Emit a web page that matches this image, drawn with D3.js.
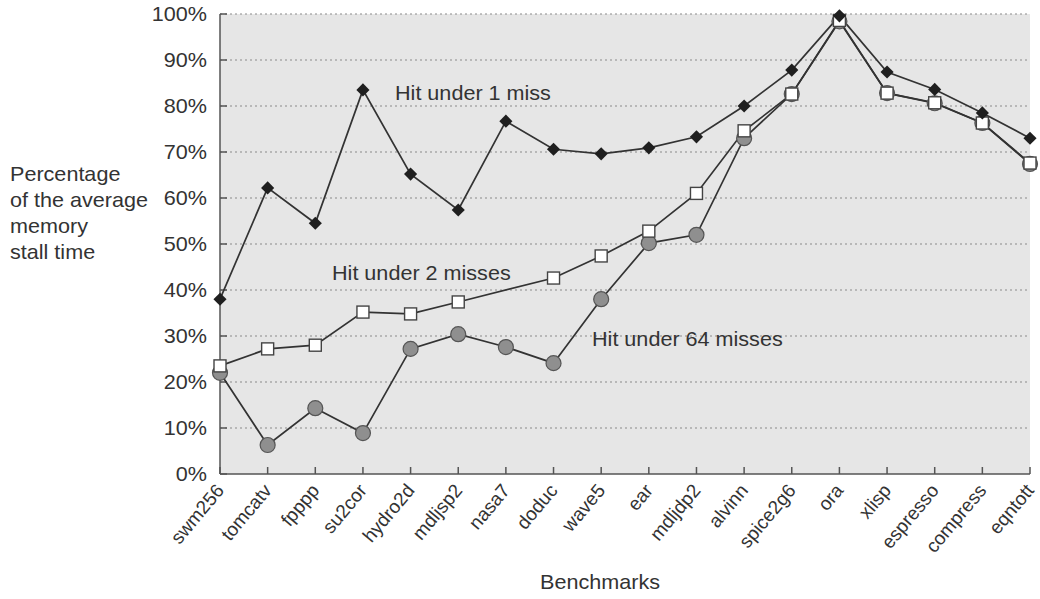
<!DOCTYPE html>
<html>
<head>
<meta charset="utf-8">
<script src="https://cdn.jsdelivr.net/npm/d3@7"></script>
<style>
  body { margin: 0; background: #fff; }
  text { font-family: "Liberation Sans", Arial, sans-serif; fill: #333; }
</style>
</head>
<body>
<div id="chart"></div>
<script>
const benchmarks = ['swm256', 'tomcatv', 'fpppp', 'su2cor', 'hydro2d', 'mdljsp2', 'nasa7', 'doduc',
    'wave5', 'ear', 'mdljdp2', 'alvinn', 'spice2g6', 'ora', 'xlisp', 'espresso', 'compress', 'eqntott'];
const hitUnder1 = [38.0, 62.2, 54.5, 83.5, 65.2, 57.4, 76.7, 70.6, 69.6, 70.9, 73.3, 80.0, 87.8, 99.6, 87.4, 83.6, 78.5, 73.0];
// nasa7 has no marker on the 2-miss line in the figure
const hitUnder2 = [23.5, 27.2, 28.0, 35.2, 34.8, 37.4, null, 42.6, 47.4, 52.8, 61.0, 74.6, 82.6, 98.6, 82.8, 80.7, 76.3, 67.6];
const hitUnder64 = [22.0, 6.3, 14.3, 8.9, 27.2, 30.4, 27.6, 24.1, 38.0, 50.2, 52.0, 73.0, 82.6, 98.4, 82.8, 80.6, 76.3, 67.4];
const yTicks = [0, 10, 20, 30, 40, 50, 60, 70, 80, 90, 100];
const yLabelLines = ['Percentage', 'of the average', 'memory', 'stall time'];

const width = 1040, height = 599;
const margin = { top: 14, right: 10, bottom: 125, left: 220 };
const sx = 1.08; // the figure's text is a bit stretched sideways

const svg = d3.select('#chart').append('svg')
    .attr('width', width)
    .attr('height', height);

const x = d3.scalePoint().domain(benchmarks).range([margin.left, width - margin.right]);
const y = d3.scaleLinear().domain([0, 100]).range([height - margin.bottom, margin.top]);

function stretchedText(g, tx, ty, str, anchor) {
    return g.append('text')
        .attr('transform', 'translate(' + tx + ',' + ty + ') scale(' + sx + ',1)')
        .attr('text-anchor', anchor || 'start')
        .attr('font-size', '20px')
        .text(str);
}

// plot background
svg.append('rect')
    .attr('x', margin.left)
    .attr('y', y(100))
    .attr('width', x.range()[1] - margin.left)
    .attr('height', y(0) - y(100))
    .attr('fill', '#e6e6e6');

// dotted gridlines
svg.append('g').selectAll('line')
    .data(yTicks.filter(t => t > 0))
    .join('line')
    .attr('x1', margin.left)
    .attr('x2', x.range()[1])
    .attr('y1', d => y(d))
    .attr('y2', d => y(d))
    .attr('stroke', '#8a8a8a')
    .attr('stroke-width', 1)
    .attr('stroke-dasharray', '2,3');

// axes
const axisColor = '#555';
svg.append('line')
    .attr('x1', margin.left).attr('x2', margin.left)
    .attr('y1', y(100)).attr('y2', y(0))
    .attr('stroke', axisColor).attr('stroke-width', 1.5);
svg.append('line')
    .attr('x1', margin.left).attr('x2', x.range()[1])
    .attr('y1', y(0)).attr('y2', y(0))
    .attr('stroke', axisColor).attr('stroke-width', 1.5);

svg.append('g').selectAll('line')
    .data(yTicks)
    .join('line')
    .attr('x1', margin.left).attr('x2', margin.left + 7)
    .attr('y1', d => y(d)).attr('y2', d => y(d))
    .attr('stroke', axisColor).attr('stroke-width', 1.5);

svg.append('g').selectAll('line')
    .data(benchmarks)
    .join('line')
    .attr('x1', d => x(d)).attr('x2', d => x(d))
    .attr('y1', y(0)).attr('y2', y(0) - 7)
    .attr('stroke', axisColor).attr('stroke-width', 1.5);

// y tick labels
const yLab = svg.append('g');
yTicks.forEach(t => {
    stretchedText(yLab, margin.left - 13, y(t) + 7, t + '%', 'end');
});

// category labels
svg.append('g').selectAll('text')
    .data(benchmarks)
    .join('text')
    .attr('transform', d => 'translate(' + (x(d) + 5) + ',' + (y(0) + 17) + ') rotate(-50)')
    .attr('text-anchor', 'end')
    .attr('font-size', '19px')
    .text(d => d);

// axis titles
const titles = svg.append('g');
yLabelLines.forEach((s, i) => {
    stretchedText(titles, 10, 181 + i * 26, s);
});
stretchedText(titles, 600, 589, 'Benchmarks', 'middle');

// series
const lineColor = '#333';
const series = [
    { name: 'Hit under 1 miss', values: hitUnder1, marker: 'diamond' },
    { name: 'Hit under 2 misses', values: hitUnder2, marker: 'square' },
    { name: 'Hit under 64 misses', values: hitUnder64, marker: 'circle' }
];

const line = d3.line().x(d => x(d.b)).y(d => y(d.v));

series.forEach(s => {
    s.points = s.values.map((v, i) => ({ b: benchmarks[i], v: v })).filter(d => d.v != null);
});

// draw lines first, markers on top (circles under squares under diamonds)
series.forEach(s => {
    svg.append('path')
        .datum(s.points)
        .attr('d', line)
        .attr('fill', 'none')
        .attr('stroke', lineColor)
        .attr('stroke-width', 1.7);
});

const markers = svg.append('g');
[series[2], series[1], series[0]].forEach(s => {
    const g = markers.append('g');
    if (s.marker === 'circle') {
        g.selectAll('circle').data(s.points).join('circle')
            .attr('cx', d => x(d.b)).attr('cy', d => y(d.v))
            .attr('r', 7.5)
            .attr('fill', '#8f8f8f')
            .attr('stroke', '#555')
            .attr('stroke-width', 1.2);
    } else if (s.marker === 'square') {
        g.selectAll('rect').data(s.points).join('rect')
            .attr('x', d => x(d.b) - 6).attr('y', d => y(d.v) - 6)
            .attr('width', 12).attr('height', 12)
            .attr('fill', '#fff')
            .attr('stroke', '#444')
            .attr('stroke-width', 1.4);
    } else {
        g.selectAll('path').data(s.points).join('path')
            .attr('d', d3.symbol().type(d3.symbolDiamond2).size(110))
            .attr('transform', d => 'translate(' + x(d.b) + ',' + y(d.v) + ')')
            .attr('fill', '#1f1f1f');
    }
});

// series labels
const labels = svg.append('g');
stretchedText(labels, 395, 100, series[0].name);
stretchedText(labels, 332, 280, series[1].name);
stretchedText(labels, 592, 346, series[2].name);
</script>
</body>
</html>
